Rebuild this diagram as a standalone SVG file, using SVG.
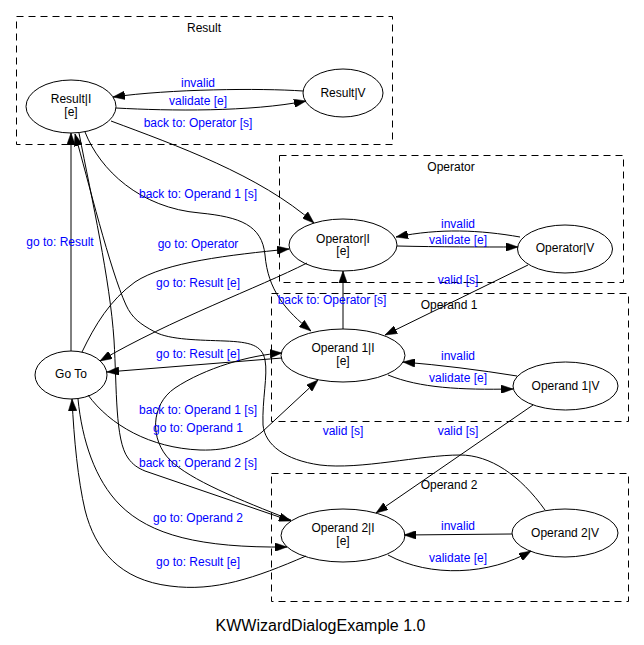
<svg xmlns="http://www.w3.org/2000/svg" width="644" height="645" viewBox="0 0 644 645">
<style>
text{font-family:"Liberation Sans",Arial,Helvetica,sans-serif;font-size:12px;text-anchor:middle;fill:#000}
.lbl{fill:#0000ff}
.node ellipse{fill:none;stroke:#000;stroke-width:1}
.cl rect{fill:none;stroke:#000;stroke-width:1;stroke-dasharray:7,5}
.edges path{fill:none;stroke:#000;stroke-width:1}
.arr{marker-end:url(#ah)}
.title{font-size:16px}
</style>
<defs>
<marker id="ah" viewBox="0 0 12 8.5" refX="12" refY="4.25" markerWidth="12" markerHeight="8.5" markerUnits="userSpaceOnUse" orient="auto">
<path d="M0,0 L12,4.25 L0,8.5 z" fill="#000" stroke="#000" stroke-width="0.5"/>
</marker>
</defs>
<rect x="0" y="0" width="644" height="645" fill="#fff"/>

<g id="cluster-result" class="cl"><rect x="16.5" y="16.5" width="376" height="128"/><text x="204" y="32">Result</text></g>
<g id="cluster-operator" class="cl"><rect x="279.5" y="155.5" width="344" height="127"/><text x="451" y="171">Operator</text></g>
<g id="cluster-operand1" class="cl"><rect x="271.5" y="293.5" width="357" height="128"/><text x="449" y="309">Operand 1</text></g>
<g id="cluster-operand2" class="cl"><rect x="271.5" y="473.5" width="357" height="128"/><text x="449" y="489">Operand 2</text></g>

<g id="connectors" class="edges">
<path class="arr" d="M303,91 C260,88 170,89 113,97"/>
<path class="arr" d="M116,108 C170,111 250,112 306,101"/>
<path class="arr" d="M111,121 C175,145 260,175 314,223"/>
<path class="arr" d="M85,132 C100,170 140,208 200,213 C240,217 262,225 265,255 C268,290 285,310 311,331"/>
<path class="arr" d="M71,351 L71,133"/>
<path class="arr" d="M545,510 C520,475 490,455 460,455 C420,455 360,470 320,465 C285,460 265,445 263,425 C262,400 268,375 265,360 C262,345 250,342 225,341 C200,340 170,340 155,332 C140,324 132,318 126,305 C110,270 88,180 75,134"/>
<path class="arr" d="M79,133 C92,200 110,280 114,340 C117,390 115,440 128,458 C133,465 138,468 145,471 L291,521"/>
<path class="arr" d="M291,520 C240,500 190,480 170,460 C150,440 150,405 175,388 C205,368 250,355 282,353"/>
<path class="arr" d="M88,395 C110,425 150,448 200,450 C230,451 250,442 262,432 L318,380"/>
<path class="arr" d="M82,352 C95,325 110,300 135,282 C165,262 230,255 289,249"/>
<path class="arr" d="M307,263 C260,287 170,320 100,361"/>
<path class="arr" d="M282,358 L107,372"/>
<path class="arr" d="M306,556 C255,578 215,592 170,586 C120,580 95,550 85,510 C78,480 74,440 72,399"/>
<path class="arr" d="M78,399 C82,440 95,480 120,505 C150,535 200,548 287,547"/>
<path class="arr" d="M343,329 L343,271"/>
<path class="arr" d="M528,265 L385,335"/>
<path class="arr" d="M533,405 L376,513"/>
<path class="arr" d="M520,237 C480,230 440,228 396,237"/>
<path class="arr" d="M397,246 C440,247 480,247 518,247"/>
<path class="arr" d="M517,376 C480,370 440,365 403,362"/>
<path class="arr" d="M388,375 C420,388 460,390 513,389"/>
<path class="arr" d="M512,534 L404,535"/>
<path class="arr" d="M388,555 C430,578 490,575 531,551"/>
</g>

<g id="edge-labels">
<text class="lbl" x="198" y="87">invalid</text>
<text class="lbl" x="198" y="104.5">validate [e]</text>
<text class="lbl" x="198" y="127">back to: Operator [s]</text>
<text class="lbl" x="198" y="198">back to: Operand 1 [s]</text>
<text class="lbl" x="60" y="245.5">go to: Result</text>
<text class="lbl" x="198" y="248">go to: Operator</text>
<text class="lbl" x="198" y="287">go to: Result [e]</text>
<text class="lbl" x="332" y="304">back to: Operator [s]</text>
<text class="lbl" x="458" y="283.5">valid [s]</text>
<text class="lbl" x="458" y="228">invalid</text>
<text class="lbl" x="458" y="243.8">validate [e]</text>
<text class="lbl" x="198" y="357.5">go to: Result [e]</text>
<text class="lbl" x="198" y="414">back to: Operand 1 [s]</text>
<text class="lbl" x="198" y="431.5">go to: Operand 1</text>
<text class="lbl" x="198" y="467">back to: Operand 2 [s]</text>
<text class="lbl" x="198" y="522">go to: Operand 2</text>
<text class="lbl" x="198" y="565.5">go to: Result [e]</text>
<text class="lbl" x="458" y="359.7">invalid</text>
<text class="lbl" x="458" y="382">validate [e]</text>
<text class="lbl" x="343" y="435.4">valid [s]</text>
<text class="lbl" x="458" y="435.4">valid [s]</text>
<text class="lbl" x="458" y="529.7">invalid</text>
<text class="lbl" x="458" y="562">validate [e]</text>
</g>

<g id="node-result-i" class="node"><ellipse cx="71" cy="106.5" rx="45" ry="26.5"/><text x="71" y="103">Result|I</text><text x="71" y="115.5">[e]</text></g>
<g id="node-result-v" class="node"><ellipse cx="343" cy="93" rx="40" ry="24"/><text x="343" y="96.5">Result|V</text></g>
<g id="node-operator-i" class="node"><ellipse cx="343" cy="245" rx="54" ry="26"/><text x="343" y="242.5">Operator|I</text><text x="343" y="255">[e]</text></g>
<g id="node-operator-v" class="node"><ellipse cx="565" cy="249" rx="47.5" ry="24"/><text x="565" y="252">Operator|V</text></g>
<g id="node-operand1-i" class="node"><ellipse cx="343" cy="355.5" rx="62" ry="26.5"/><text x="343" y="352">Operand 1|I</text><text x="343" y="364.7">[e]</text></g>
<g id="node-operand1-v" class="node"><ellipse cx="565.5" cy="386" rx="52.5" ry="24"/><text x="565.5" y="390">Operand 1|V</text></g>
<g id="node-operand2-i" class="node"><ellipse cx="343" cy="535.5" rx="62" ry="26.5"/><text x="343" y="532">Operand 2|I</text><text x="343" y="544.7">[e]</text></g>
<g id="node-operand2-v" class="node"><ellipse cx="565" cy="533" rx="53" ry="24"/><text x="565" y="536.5">Operand 2|V</text></g>
<g id="node-goto" class="node"><ellipse cx="71" cy="375" rx="36" ry="24"/><text x="71" y="378">Go To</text></g>

<text class="title" x="320.5" y="630.5">KWWizardDialogExample 1.0</text>
</svg>
